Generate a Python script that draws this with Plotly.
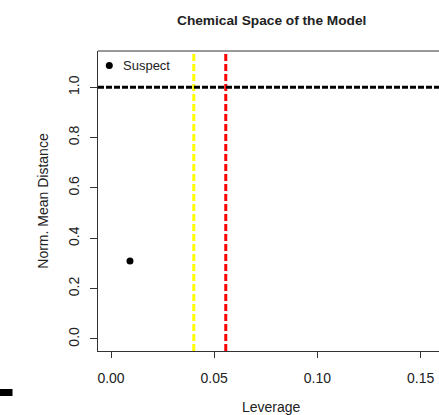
import plotly.graph_objects as go

# Data
leverage = [0.0092]
norm_mean_distance = [0.31]
series_name = "Suspect"
leverage_warning = [0.0401]   # yellow threshold
leverage_critical = [0.0556]  # red threshold
distance_threshold = [1.0]
x_ticks = [0.00, 0.05, 0.10, 0.15]
x_tick_labels = ["0.00", "0.05", "0.10", "0.15"]
y_ticks = [0.0, 0.2, 0.4, 0.6, 0.8, 1.0]
y_tick_labels = ["0.0", "0.2", "0.4", "0.6", "0.8", "1.0"]

FONT = "Liberation Sans, Arial, sans-serif"
TXT = "#222222"
PW, PH = 341.0, 300.0  # plot area size in px

fig = go.Figure()
fig.add_trace(go.Scatter(
    x=leverage, y=norm_mean_distance, mode="markers", name=series_name,
    marker=dict(color="black", size=7),
    showlegend=False, hoverinfo="skip",
))

for v in leverage_warning:
    fig.add_shape(type="line", xref="x", yref="paper", x0=v, x1=v, y0=0, y1=1,
                  line=dict(color="#ffff00", width=3, dash="7px,3px"))
for v in leverage_critical:
    fig.add_shape(type="line", xref="x", yref="paper", x0=v, x1=v, y0=0, y1=1,
                  line=dict(color="#ff0000", width=3, dash="7px,3px"))
for v in distance_threshold:
    fig.add_shape(type="line", xref="paper", yref="y", x0=0, x1=1, y0=v, y1=v,
                  line=dict(color="black", width=3, dash="6px,2px"))

# top border of the box (right side lies beyond the window)
fig.add_shape(type="line", xref="paper", yref="paper", x0=0, x1=1, y0=1, y1=1,
              line=dict(color="#333333", width=1))
# small black mark at bottom left
fig.add_shape(type="rect", xref="paper", yref="paper", x0=-0.2874, x1=-0.2507,
              y0=-0.15, y1=-0.1267, line=dict(width=0), fillcolor="black")

# legend (drawn like R's borderless legend)
lx, ly = 109.3, 65.5
fig.add_shape(type="circle", xref="paper", yref="paper",
              x0=(lx - 3.5 - 98) / PW, x1=(lx + 3.5 - 98) / PW,
              y0=(351 - ly - 3.5) / PH, y1=(351 - ly + 3.5) / PH,
              line=dict(width=0), fillcolor="black")

fig.update_layout(
    width=439, height=415,
    margin=dict(l=98, r=0, t=51, b=64),
    paper_bgcolor="white", plot_bgcolor="white",
    font=dict(family=FONT, size=13.5, color=TXT),
    showlegend=False,
    hovermode=False,
    annotations=[
        dict(text=series_name, xref="paper", yref="paper",
             x=(120.5 - 98) / PW, y=(351 - ly) / PH, xanchor="left", yanchor="middle",
             showarrow=False, font=dict(size=13, color=TXT)),
        dict(text="<b>Chemical Space of the Model</b>", xref="paper", yref="paper",
             x=0.51, y=(351 - 20.5) / PH, xanchor="center", yanchor="middle",
             showarrow=False, font=dict(size=13.7, color=TXT)),
        dict(text="Leverage", xref="paper", yref="paper",
             x=0.51, y=(351 - 407) / PH, xanchor="center", yanchor="middle",
             showarrow=False, font=dict(size=14, color=TXT)),
        dict(text="Norm. Mean Distance", xref="paper", yref="paper",
             x=(42.7 - 98) / PW, y=0.5, xanchor="center", yanchor="middle",
             textangle=-90, showarrow=False, font=dict(size=14, color=TXT)),
    ],
)
fig.update_xaxes(
    range=[-0.0063, 0.1589], tickvals=x_ticks, ticktext=x_tick_labels,
    showgrid=False, zeroline=False, showline=True, linecolor="#333333", linewidth=1,
    ticks="outside", ticklen=6, tickcolor="#333333", tickfont=dict(size=14, color=TXT),
    ticklabelstandoff=8,
)
fig.update_yaxes(
    range=[-0.0477, 1.1442], tickvals=y_ticks, ticktext=y_tick_labels,
    showgrid=False, zeroline=False, showline=True, linecolor="#333333", linewidth=1,
    ticks="outside", ticklen=7, tickcolor="#333333", tickfont=dict(size=14, color=TXT),
    tickangle=-90, ticklabelstandoff=5,
)

fig.write_html("out.html",
               config={"displayModeBar": False, "staticPlot": True},
               post_script="document.body.style.margin='0px';document.body.style.overflow='hidden';")
